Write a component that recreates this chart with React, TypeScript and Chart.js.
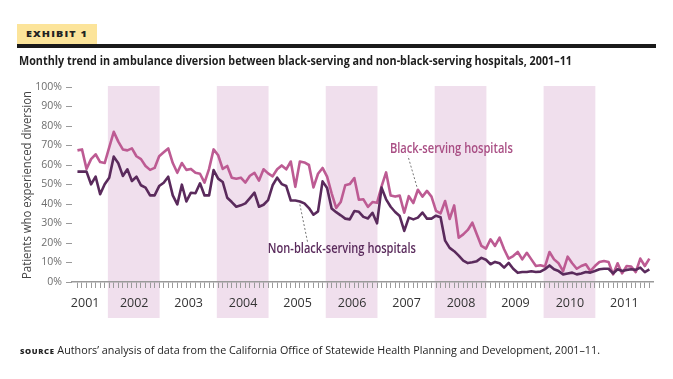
import React, { useEffect, useLayoutEffect, useRef } from 'react';
import { Chart, registerables } from 'chart.js';

Chart.register(...registerables);

// Months are counted from January 2001 (0). Data start in June 2001.
const FIRST_MONTH = 5;

const years = ['2001', '2002', '2003', '2004', '2005', '2006', '2007', '2008', '2009', '2010', '2011'];
const yearLabelMonths = [6.7, 17.5, 29.5, 41.5, 53.5, 65.5, 77.5, 89.5, 101.5, 113.5, 125.5];
const shadedYears = ['2002', '2004', '2006', '2008', '2010'];
const yTicks = [0, 10, 20, 30, 40, 50, 60, 70, 80, 90, 100];

const blackServing = [
  67.5, 68, 58, 63, 65.5, 61.5, 61,
  69, 77, 72, 68, 67.5, 68.5, 64.5, 63, 59.5, 57.5, 58.5, 64.5,
  66.5, 68.5, 61, 56, 61, 57.5, 58, 56, 55.5, 51, 58, 68,
  65, 58, 59.5, 53.5, 53, 53.5, 51, 54.5, 56, 52, 57.8, 55.7,
  54.2, 57.8, 59.8, 57.8, 61.8, 48.8, 61.8, 61.3, 60, 48.5, 55.5, 58.5,
  54, 45.5, 38, 41, 49.6, 50.2, 53.3, 42.2, 42.4, 38.5, 41, 40.6,
  49, 56.2, 44.4, 43.8, 44.3, 35.5, 44, 40.5, 47.3, 43.8, 46.7, 43.8,
  36.5, 35.2, 41.5, 32.3, 39.3, 22.7, 24.4, 26.7, 30.4, 24.4, 18.5, 17.1,
  21.9, 18.5, 22.7, 16.8, 12, 13.3, 15.4, 11.6, 15, 11.6, 8.2, 8.6,
  7.9, 15.4, 11.6, 9.6, 5.6, 13, 9.6, 6.8, 8.2, 9.1, 5.6, 8.2,
  10.3, 10.8, 10.3, 3.9, 9.6, 4.4, 8.2, 7.9, 5.1, 12, 8.2, 12,
];

const nonBlackServing = [
  56.6, 56.6, 56.6, 50.1, 54, 45, 50.1,
  53.5, 64.3, 60.9, 54.4, 57.8, 51.8, 54, 49.6, 48.4, 44.4, 44.4, 49.2,
  50.9, 54, 44.4, 39.8, 49.9, 41.3, 45.8, 45.5, 50.6, 44.4, 44.4, 57.4,
  53, 51.3, 43.2, 41, 38.6, 39.3, 40.3, 43, 45.8, 38.6, 39.6, 42,
  49.6, 53.5, 50.2, 49.2, 41.8, 41.8, 41.3, 40.3, 37.9, 34.5, 36.2, 51.6,
  48.2, 37.7, 35.8, 34.2, 32.5, 32.1, 36.4, 36, 33.4, 32.6, 35.5, 30.1,
  48.4, 42.4, 38.6, 35.9, 33.8, 26.2, 33, 32.1, 33, 35.6, 32.5, 32.5,
  34, 33.2, 21.2, 17.5, 15.8, 13.5, 11, 9.7, 10.1, 10.7, 12.4, 11.4,
  9.1, 10.3, 9.6, 7.4, 9.8, 6.8, 4.7, 5.1, 5.1, 5.5, 5.1, 5.3,
  6.6, 8.5, 6.5, 5.6, 3.9, 4.4, 4.8, 3.9, 4.4, 5.1, 4.8, 5.6,
  6.5, 6.8, 6.8, 4.4, 6.5, 5.6, 6.2, 6.5, 6.2, 7.4, 5.1, 6.5,
];

const BLACK_LABEL = 'Black-serving hospitals';
const NONBLACK_LABEL = 'Non-black-serving hospitals';
const BLACK_ANCHOR_MONTH = 80;
const NONBLACK_ANCHOR_MONTH = 54;

const PINK = '#bd5b93';
const PURPLE = '#5a2a5c';
const BAND = '#f0dfed';
const AXIS = '#9a9a9a';
const FONT = '"Open Sans", "Noto Sans", sans-serif';

function FitText({ width, style, children }: { width: number; style: React.CSSProperties; children: React.ReactNode }) {
  const ref = useRef<HTMLDivElement>(null);
  useLayoutEffect(() => {
    const el = ref.current;
    if (!el) return;
    el.style.transform = 'none';
    const w = el.getBoundingClientRect().width;
    if (w > 0) el.style.transform = `scaleX(${width / w})`;
  }, [width]);
  return (
    <div
      ref={ref}
      style={{ position: 'absolute', whiteSpace: 'nowrap', transformOrigin: '0 50%', display: 'inline-block', ...style }}
    >
      {children}
    </div>
  );
}

const overlayPlugin = {
  id: 'overlay',
  beforeDraw(chart: any) {
    const { ctx, scales, chartArea } = chart;
    const x = scales.x;
    ctx.save();
    ctx.fillStyle = BAND;
    shadedYears.forEach((yr) => {
      const start = (parseInt(yr, 10) - 2001) * 12;
      const x0 = x.getPixelForValue(start - 0.3);
      const x1 = x.getPixelForValue(start + 11.1);
      ctx.fillRect(x0, chartArea.top - 1, x1 - x0, 318 - (chartArea.top - 1));
    });
    ctx.restore();
  },
  afterDatasetsDraw(chart: any) {
    const { ctx, scales } = chart;
    const x = scales.x;
    const y = scales.y;
    ctx.save();
    // y axis title
    ctx.save();
    ctx.translate(27, 185);
    ctx.rotate(-Math.PI / 2);
    ctx.fillStyle = '#444';
    ctx.font = `12.5px ${FONT}`;
    ctx.textAlign = 'center';
    ctx.textBaseline = 'middle';
    const tw = ctx.measureText('Patients who experienced diversion').width;
    ctx.scale(188 / tw, 1);
    ctx.fillText('Patients who experienced diversion', 0, 0);
    ctx.restore();

    const drawLabel = (text: string, left: number, cy: number, width: number, color: string) => {
      ctx.save();
      ctx.font = `600 13.5px ${FONT}`;
      ctx.fillStyle = color;
      ctx.textBaseline = 'middle';
      ctx.textAlign = 'left';
      const w = ctx.measureText(text).width;
      ctx.translate(left, cy);
      ctx.scale(width / w, 1);
      ctx.fillText(text, 0, 0);
      ctx.restore();
    };

    ctx.strokeStyle = '#777';
    ctx.lineWidth = 1;
    ctx.setLineDash([2, 2]);

    // Black-serving leader and label
    const bi = BLACK_ANCHOR_MONTH - FIRST_MONTH;
    const bx = x.getPixelForValue(BLACK_ANCHOR_MONTH);
    const by = y.getPixelForValue(blackServing[bi]);
    ctx.beginPath();
    ctx.moveTo(bx - 1, by - 3);
    ctx.lineTo(bx - 10, by - 34);
    ctx.stroke();

    // Non-black leader and label
    const ni = NONBLACK_ANCHOR_MONTH - FIRST_MONTH;
    const nx = x.getPixelForValue(NONBLACK_ANCHOR_MONTH);
    const ny = y.getPixelForValue(nonBlackServing[ni]);
    ctx.beginPath();
    ctx.moveTo(nx, ny + 3);
    ctx.lineTo(nx + 8, ny + 42);
    ctx.stroke();
    ctx.setLineDash([]);

    drawLabel(BLACK_LABEL, bx - 28, by - 41, 123, '#a94e84');
    drawLabel(NONBLACK_LABEL, nx - 32, ny + 48, 148, '#5a2b5c');
    ctx.restore();
  },
};

function ChartCanvas() {
  const ref = useRef<HTMLCanvasElement>(null);
  useEffect(() => {
    if (!ref.current) return;
    const monthTicks: number[] = [];
    for (let m = FIRST_MONTH; m < FIRST_MONTH + blackServing.length; m++) monthTicks.push(m);
    const labelMap = new Map<number, string>();
    yearLabelMonths.forEach((m, i) => labelMap.set(m, years[i]));
    const allTicks = [...monthTicks, ...yearLabelMonths].sort((a, b) => a - b);

    const chart = new Chart(ref.current, {
      type: 'line',
      data: {
        datasets: [
          {
            label: NONBLACK_LABEL,
            data: nonBlackServing.map((v, i) => ({ x: FIRST_MONTH + i, y: v })),
            borderColor: PURPLE,
            borderWidth: 2.6,
            pointRadius: 0,
            tension: 0,
            borderJoinStyle: 'round',
            order: 0,
          },
          {
            label: BLACK_LABEL,
            data: blackServing.map((v, i) => ({ x: FIRST_MONTH + i, y: v })),
            borderColor: PINK,
            borderWidth: 2.6,
            pointRadius: 0,
            tension: 0,
            borderJoinStyle: 'round',
            order: 1,
          },
        ],
      },
      options: {
        animation: false,
        responsive: false,
        maintainAspectRatio: false,
        layout: { padding: { left: 0, top: 87, right: 20, bottom: 0 } },
        plugins: { legend: { display: false }, tooltip: { enabled: false } },
        scales: {
          x: {
            type: 'linear',
            min: 3.8,
            max: 131.8,
            afterBuildTicks: (axis: any) => {
              axis.ticks = allTicks.map((v) => ({ value: v }));
            },
            afterFit: (s: any) => {
              s.height = 97;
            },
            ticks: {
              autoSkip: false,
              maxRotation: 0,
              minRotation: 0,
              padding: 8,
              color: '#333',
              font: { family: FONT, size: 12.5 },
              callback: (v: any) => labelMap.get(v) ?? '',
            },
            grid: {
              drawOnChartArea: false,
              drawTicks: true,
              tickLength: 6,
              lineWidth: 1,
              tickColor: (ctx: any) => (ctx.tick && labelMap.has(ctx.tick.value) ? 'rgba(0,0,0,0)' : AXIS),
              color: AXIS,
            },
            border: { display: true, color: AXIS, width: 1.5 },
          },
          y: {
            type: 'linear',
            min: 0,
            max: 100,
            afterBuildTicks: (axis: any) => {
              axis.ticks = yTicks.map((v) => ({ value: v }));
            },
            afterFit: (s: any) => {
              s.width = 72;
            },
            ticks: {
              padding: 4,
              color: '#6e6e6e',
              font: { family: FONT, size: 10.5 },
              callback: (v: any) => `${v}%`,
            },
            grid: { drawOnChartArea: false, tickLength: 6, color: AXIS, lineWidth: 1 },
            border: { display: false },
          },
        },
      },
      plugins: [overlayPlugin],
    } as any);
    return () => chart.destroy();
  }, []);
  return <canvas ref={ref} width={673} height={379} style={{ position: 'absolute', left: 0, top: 0, width: 673, height: 379 }} />;
}

export default function App() {
  return (
    <div style={{ position: 'absolute', left: 0, top: 0, width: 673, height: 379, background: '#fff', overflow: 'hidden', fontFamily: FONT }}>
      <ChartCanvas />
      <div style={{ position: 'absolute', left: 17, top: 24, width: 80, height: 20, background: '#fce49a' }} />
      <FitText width={62} style={{ left: 26, top: 27, fontSize: 9.5, fontWeight: 800, letterSpacing: 1, color: '#222', lineHeight: '14px' }}>
        EXHIBIT 1
      </FitText>
      <div style={{ position: 'absolute', left: 17, top: 44, width: 639, height: 4, background: '#1a1a1a' }} />
      <FitText width={553} style={{ left: 19, top: 51, fontSize: 13, fontWeight: 700, color: '#1e1e1e', lineHeight: '18px' }}>
        Monthly trend in ambulance diversion between black-serving and non-black-serving hospitals, 2001–11
      </FitText>
      <FitText width={580} style={{ left: 20, top: 343, fontSize: 10.5, color: '#222', lineHeight: '14px' }}>
        <span style={{ fontWeight: 800, fontSize: 7.5, letterSpacing: 0.6 }}>SOURCE</span> Authors’ analysis of data from the California Office of Statewide Health Planning and Development, 2001–11.
      </FitText>
    </div>
  );
}
